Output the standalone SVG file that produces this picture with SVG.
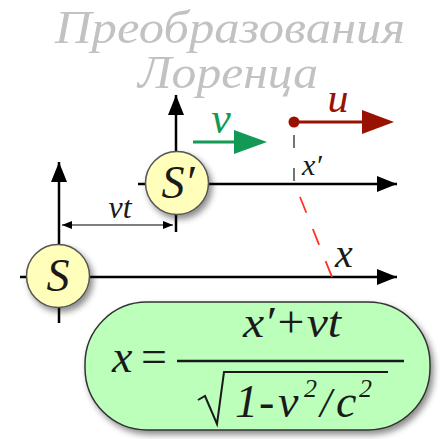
<svg xmlns="http://www.w3.org/2000/svg" width="442" height="439" viewBox="0 0 442 439">
<defs>
<style>
.ax{stroke:#000;stroke-width:2.5;fill:none}
.circ{fill:#ffffbb;stroke:#555;stroke-width:1.5}
</style>
<marker id="big" viewBox="0 0 20 16" refX="20" refY="8" markerWidth="20" markerHeight="16" markerUnits="userSpaceOnUse" orient="auto"><path d="M0,0 L20,8 L0,16 Z" fill="#000"/></marker>
<marker id="dim" viewBox="0 0 10 8" refX="10" refY="4" markerWidth="10" markerHeight="8" markerUnits="userSpaceOnUse" orient="auto-start-reverse"><path d="M0,0 L10,4 L0,8 Z" fill="#000"/></marker>
<filter id="sh" x="-30%" y="-30%" width="170%" height="170%"><feDropShadow dx="3" dy="4" stdDeviation="3" flood-color="#000" flood-opacity="0.45"/></filter>
</defs>
<g id="title" font-family="Liberation Serif" font-style="italic" fill="#c2c2c2" font-size="47">
<text x="230" y="43" text-anchor="middle" textLength="350" lengthAdjust="spacingAndGlyphs">Преобразования</text>
<text x="228" y="88" text-anchor="middle" textLength="180" lengthAdjust="spacingAndGlyphs">Лоренца</text>
</g>
<g id="connectors">
<line class="ax" x1="176" y1="232" x2="176" y2="95" marker-end="url(#big)"/>
<line class="ax" x1="138" y1="184" x2="397" y2="184" marker-end="url(#big)"/>
<line class="ax" x1="59" y1="323" x2="59" y2="162" marker-end="url(#big)"/>
<line class="ax" x1="20" y1="277" x2="397" y2="277" marker-end="url(#big)"/>
<line x1="62" y1="225" x2="173" y2="225" stroke="#000" stroke-width="1.2" marker-start="url(#dim)" marker-end="url(#dim)"/>
<line x1="294" y1="135" x2="294" y2="184" stroke="#666" stroke-width="1.8" stroke-dasharray="13,20"/>
<line x1="300" y1="197" x2="332" y2="277" stroke="#ff3322" stroke-width="1.8" stroke-dasharray="17,17.5"/>
<g id="v-arrow"><line x1="193" y1="142" x2="238" y2="142" stroke="#119955" stroke-width="3"/><path d="M234,130 L267,142 L234,154 Z" fill="#119955"/></g>
<g id="u-arrow"><circle cx="294" cy="122" r="5.5" fill="#991100"/><line x1="294" y1="122" x2="366" y2="122" stroke="#991100" stroke-width="3"/><path d="M362,110 L394,122 L362,134 Z" fill="#991100"/></g>
</g>
<g id="labels" font-family="Liberation Serif" font-style="italic" fill="#1a1a1a">
<text x="120" y="218" font-size="32" text-anchor="middle">vt</text>
<text x="221" y="133" font-size="44" fill="#119955" text-anchor="middle">v</text>
<text x="338" y="112" font-size="42" fill="#991100" text-anchor="middle">u</text>
<text x="302" y="175" font-size="30">x′</text>
<text x="335" y="267" font-size="40">x</text>
</g>
<g id="node-S-prime">
<circle class="circ" cx="177" cy="183" r="31.5" filter="url(#sh)"/>
<text font-family="Liberation Serif" font-style="italic" fill="#1a1a1a" x="178" y="198" font-size="46" text-anchor="middle">S′</text>
</g>
<g id="node-S">
<circle class="circ" cx="58" cy="276" r="31.5" filter="url(#sh)"/>
<text font-family="Liberation Serif" font-style="italic" fill="#1a1a1a" x="58" y="291" font-size="46" text-anchor="middle">S</text>
</g>
<g id="formula">
<rect x="85" y="302" width="345" height="128" rx="62" ry="62" fill="#bbffbb" stroke="#333" stroke-width="1.5" filter="url(#sh)"/>
<g font-family="Liberation Serif" font-style="italic" fill="#1a1a1a">
<text x="112" y="372" font-size="46">x</text>
<text x="141" y="372" font-size="46" font-style="normal">=</text>
<text x="243" y="337" font-size="44" textLength="98" lengthAdjust="spacingAndGlyphs">x′+vt</text>
<text x="235" y="417" font-size="46">1</text>
<text x="259" y="417" font-size="46">-</text>
<text x="278" y="417" font-size="46">v</text>
<text x="304" y="397" font-size="26">2</text>
<text x="320" y="417" font-size="42">/</text>
<text x="336" y="417" font-size="46">c</text>
<text x="359" y="397" font-size="26">2</text>
</g>
<line x1="177" y1="361" x2="404" y2="361" stroke="#1a1a1a" stroke-width="2.5"/>
<path d="M198,400 L205,396 L217,424 L224,372 L388,372" fill="none" stroke="#1a1a1a" stroke-width="2"/>
</g>
</svg>
